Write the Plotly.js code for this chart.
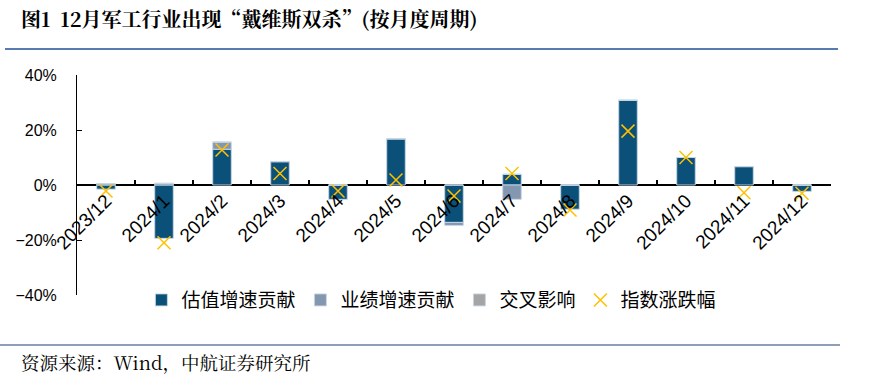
<!DOCTYPE html>
<html><head><meta charset="utf-8">
<script src="https://cdn.plot.ly/plotly-3.0.1.min.js"></script>
<style>html,body{margin:0;padding:0;background:#fff}#chart{width:871px;height:382px}</style>
</head><body><div id="chart"></div>
<script>
const categories = ["2023/12","2024/1","2024/2","2024/3","2024/4","2024/5","2024/6","2024/7","2024/8","2024/9","2024/10","2024/11","2024/12"];
const valuation = [-1.5,-19.4,13.0,8.5,-5.2,16.8,-13.6,3.9,-8.8,30.8,10.0,6.7,-2.3];
const earnings  = [0.5,0.6,2.6,0.0,0.0,0.0,-1.1,-5.2,0.0,0.0,0.0,0.0,0.0];
const cross     = [0,0,0,0,0,0,0,0,0,0,0,0,0];
const indexChg  = [-2.2,-21.0,12.7,4.2,-2.2,1.8,-4.0,4.2,-9.1,19.6,10.0,-2.8,-3.0];
const yTicks = [-40,-20,0,20,40];

const L = 77, R = 40, T = 75, B = 87, W = 871, H = 382;
const ph = H - T - B;
const barLine = {color: 'rgba(200,214,228,0.9)', width: 1};
const traces = [
  {type:'bar', name:'估值增速贡献', x:categories, y:valuation, marker:{color:'#0B5078', line:barLine}},
  {type:'bar', name:'业绩增速贡献', x:categories, y:earnings, marker:{color:'#8497B0', line:barLine}},
  {type:'bar', name:'交叉影响', x:categories, y:cross, marker:{color:'#A5A5A5', line:barLine}},
  {type:'scatter', mode:'markers', name:'指数涨跌幅', x:categories, y:indexChg,
   marker:{symbol:'x-thin-open', size:13, color:'#FFC000', line:{color:'#FFC000', width:1.5}}}
];
const layout = {
  width: W, height: H,
  margin: {l:L, r:R, t:T, b:B, pad:0},
  paper_bgcolor:'#fff', plot_bgcolor:'#fff',
  barmode:'relative', bargap:0.68,
  showlegend:true,
  font:{family:'"Noto Sans CJK SC", "DejaVu Sans", sans-serif', color:'#000'},
  xaxis:{type:'category', anchor:'free', position:0.5, showline:false,
    ticks:'inside', ticklen:5, tickcolor:'#000', tickwidth:1.2, tickson:'boundaries',
    tickangle:-45, tickfont:{size:19, family:'"Liberation Sans", Arial, sans-serif'}, showgrid:false, zeroline:false,
    range:[-0.5,12.5]},
  yaxis:{range:[-40,40], tickvals:yTicks, ticktext:yTicks.map(v=>(v<0?'\u2212'+(-v):v)+'%'), showline:true, linecolor:'#000', linewidth:1,
    ticks:'inside', ticklen:5, tickcolor:'#000', showgrid:false, zeroline:true, zerolinecolor:'#000', zerolinewidth:1.4,
    ticklabelstandoff:16,
    tickfont:{size:16, family:'"Liberation Sans Narrow", "Liberation Sans", Arial, sans-serif'}},
  legend:{orientation:'h', x:0.47, xanchor:'center', y:-0.023, yanchor:'middle',
    font:{size:19, family:'"Noto Sans CJK SC", sans-serif'}, itemwidth:20, tracegroupgap:0, bgcolor:'rgba(0,0,0,0)'},
  shapes:[
    {type:'line', xref:'paper', yref:'paper', x0:(5-L)/(W-L-R), x1:(838-L)/(W-L-R), y0:(H-B-49)/ph, y1:(H-B-49)/ph, line:{color:'#1F4E96', width:1.5}},
    {type:'line', xref:'paper', yref:'paper', x0:(0-L)/(W-L-R), x1:(840-L)/(W-L-R), y0:(H-B-345)/ph, y1:(H-B-345)/ph, line:{color:'#1F3F6E', width:1.2}}
  ],
  annotations:[
    {xref:'paper', yref:'paper', x:(19-L)/(W-L-R), y:(H-B-19)/ph, xanchor:'left', yanchor:'middle', showarrow:false,
     text:'<b>图1&nbsp;&nbsp;12月军工行业出现“戴维斯双杀”(按月度周期)</b>', font:{size:20, family:'"Noto Serif CJK SC", "Noto Sans CJK SC", serif', color:'#000'}},
    {xref:'paper', yref:'paper', x:(19-L)/(W-L-R), y:(H-B-362)/ph, xanchor:'left', yanchor:'middle', showarrow:false,
     text:'资源来源：Wind，中航证券研究所', font:{size:18.5, family:'"Noto Serif CJK SC", "Liberation Serif", "Noto Sans CJK SC", serif', color:'#000'}}
  ]
};
Plotly.newPlot('chart', traces, layout, {displayModeBar:false, staticPlot:true});
</script></body></html>
